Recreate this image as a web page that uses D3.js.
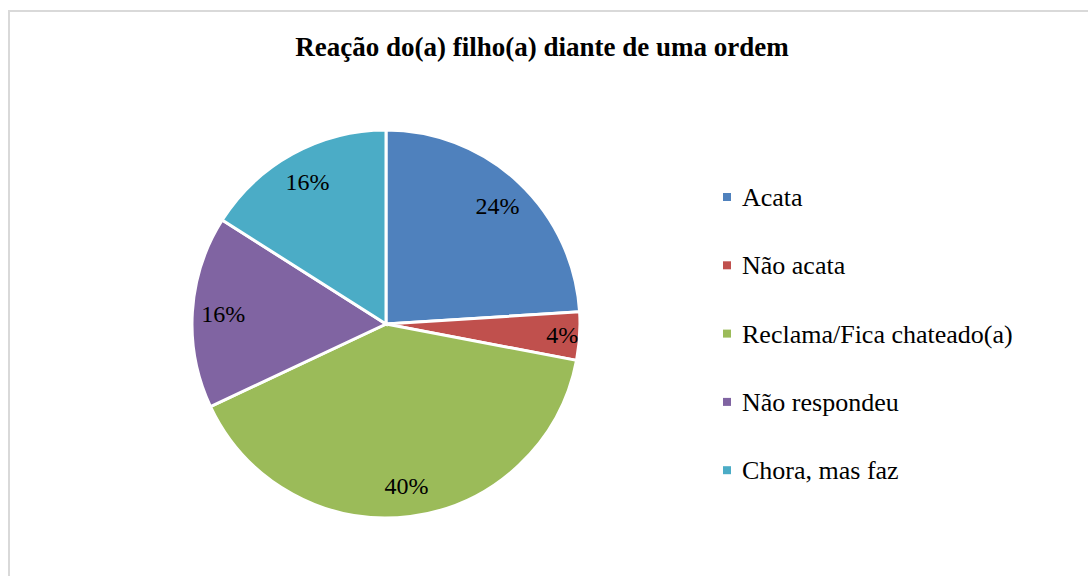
<!DOCTYPE html>
<html>
<head>
<meta charset="utf-8">
<script src="https://cdn.jsdelivr.net/npm/d3@7/dist/d3.min.js"></script>
<style>
  body { margin: 0; background: #fff; }
  svg text { font-family: "Liberation Serif", "Times New Roman", serif; }
</style>
</head>
<body>
<div id="chart"></div>
<script>
// Chart data
var categories = ["Acata", "Não acata", "Reclama/Fica chateado(a)", "Não respondeu", "Chora, mas faz"];
var values = [24, 4, 40, 16, 16];
var colors = ["#4f81bd", "#c0504d", "#9bbb59", "#8064a2", "#4bacc6"];

var width = 1088, height = 576;
var svg = d3.select("#chart").append("svg")
    .attr("width", width)
    .attr("height", height);

// Chart frame
svg.append("rect")
    .attr("x", 9).attr("y", 11)
    .attr("width", width + 20).attr("height", height + 20)
    .style("fill", "none")
    .style("stroke", "#d9d9d9")
    .style("stroke-width", 2);

// Title
svg.append("text")
    .attr("x", 542).attr("y", 56)
    .attr("text-anchor", "middle")
    .style("font-size", "27px")
    .style("font-weight", "bold")
    .text("Reação do(a) filho(a) diante de uma ordem");

var radius = 194;
var g = svg.append("g").attr("transform", "translate(386,324)");

var pie = d3.pie().sort(null).value(function(d) { return d; });
var arcs = pie(values);
var arc = d3.arc().innerRadius(0).outerRadius(radius);

g.selectAll("path")
    .data(arcs)
    .enter()
    .append("path")
    .attr("d", arc)
    .style("fill", function(d, i) { return colors[i]; })
    .style("stroke", "#fff")
    .style("stroke-width", 3);

// Percent labels
g.selectAll("text.lbl")
    .data(arcs)
    .enter()
    .append("text")
    .attr("class", "lbl")
    .attr("transform", function(d) {
        var r = d.data < 5 ? radius * 0.91 : radius * 0.84;
        var a = (d.startAngle + d.endAngle) / 2;
        return "translate(" + (Math.sin(a) * r) + "," + (-Math.cos(a) * r) + ")";
    })
    .attr("dy", "0.35em")
    .attr("text-anchor", "middle")
    .style("font-size", "24px")
    .style("fill", "#000")
    .text(function(d) { return d.data + "%"; });

// Legend
var legend = svg.append("g").attr("transform", "translate(723,206)");
var rows = legend.selectAll("g")
    .data(categories)
    .enter()
    .append("g")
    .attr("transform", function(d, i) { return "translate(0," + (i * 68.3) + ")"; });

rows.append("rect")
    .attr("x", 0).attr("y", -13)
    .attr("width", 8).attr("height", 8)
    .style("fill", function(d, i) { return colors[i]; });

rows.append("text")
    .attr("x", 19).attr("y", 0)
    .style("font-size", "26px")
    .style("fill", "#000")
    .text(function(d) { return d; });
</script>
</body>
</html>
